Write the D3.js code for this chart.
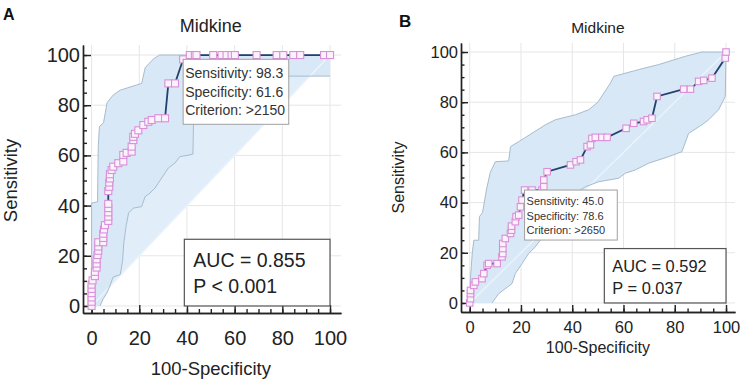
<!DOCTYPE html>
<html>
<head>
<meta charset="utf-8">
<script src="https://cdn.jsdelivr.net/npm/d3@7"></script>
<style>
  html, body { margin: 0; padding: 0; background: #fff; }
  svg { display: block; font-family: "Liberation Sans", Arial, sans-serif; }
</style>
</head>
<body>
<svg id="chart" width="744" height="384"></svg>
<script>
// ROC points as [100-Specificity, Sensitivity]
const rocA = [[0,0],[0,1.7],[0,3.4],[0,5.1],[0,6.8],[0,8.5],[0.4,10.2],[1.4,11.9],[1.4,13.6],[2.1,15.3],
  [2.1,16.9],[2.1,18.6],[2.5,20.3],[2.8,22],[2.8,23.7],[2.8,25.4],[4.9,25.4],[4.9,27.1],[4.9,28.8],[5.2,30.5],
  [5.6,32.2],[7,33.9],[7,35.6],[7,37.3],[7,39],[7,40.7],[7,45.8],[7.4,47.5],[7.4,49.2],[7.7,50.8],[7.7,52.5],
  [8.4,54.2],[9.1,55.5],[11.2,56.9],[13.3,57.6],[13.3,60.2],[14.7,61],[16.8,61.5],[16.8,63.5],[17.5,66.1],
  [17.5,67.4],[18.2,68.6],[19.6,70],[21.7,72.1],[23.8,73.4],[25.2,74.1],[28,74.8],[30.8,74.8],[32.2,88.7],
  [35,88.7],[38.4,98.3],[41.2,100],[43.3,100],[44,100],[51,100],[54.5,100],[56.6,100],[58.7,100],[60.1,100],
  [69.2,100],[77.6,100],[80.4,100],[84.6,100],[87.5,100],[97.5,100],[100,100]];
const upperA = [[0,0],[0,41],[2.5,41.5],[2.8,63.5],[3.3,71.5],[5,73],[6.5,81],[9,84],[12,86],[17,87.5],
  [21,88.7],[22.5,95],[26,98.5],[28.5,100],[100,100]];
const lowerA = [[3.5,0],[5,3],[6.3,5],[7.7,8],[9,11.5],[12,12.5],[13,18],[13.5,25],[14.5,32],[15.5,37],
  [17.5,39],[21,39.6],[22.4,43.5],[24.5,45],[26.6,47],[28,49],[30.8,53],[32.2,55],[35,57],[37,59.5],
  [40,60],[42.5,60.5],[42.8,75],[43.3,91.6],[100,91.6]];

const rocB = [[0,0],[0.3,1.7],[0.3,3.7],[0.3,5],[1.6,7],[2.2,8.4],[4.8,9.7],[5.5,11.7],[6.8,15],[7.4,15.7],
  [10.7,15.7],[12.6,18.4],[12.9,19.7],[12.9,21.7],[12.9,23.7],[13.9,25.7],[15.9,27.7],[16.3,29],[16.3,30.6],
  [17.8,32.4],[18.1,34.4],[19.1,35],[19.8,38.3],[20.4,41],[21.4,45],[24.3,45],[28.2,45],[28.9,46.3],[28.9,49],
  [30.2,52.3],[39.3,55],[41.5,56.3],[43.2,57],[45.8,62.3],[47.1,63],[47.7,65.6],[49,66],[51.6,66],[53.6,66],
  [61,69.6],[64,71.6],[67.8,72.3],[69.2,73],[71.1,73.6],[73.1,82.3],[83.5,85.2],[86.1,85.2],[89.3,88.3],
  [91.3,88.7],[94.5,89.6],[99.7,97.6],[100,100]];
const upperB = [[0,0],[0.3,10],[1,20],[1.6,25],[3.5,25],[3.8,34.4],[5,36],[6.5,45],[8,52],[10,56.3],
  [15.2,56.6],[15.9,62.3],[19.1,64.3],[24.3,67.6],[29.5,71],[33.4,73],[41.2,75],[46.4,77],[50,80],[54.9,87.6],
  [56.2,90.3],[65.9,93],[73.7,95],[84.1,98.3],[90.6,100],[100,100]];
const lowerB = [[8.7,0],[11.3,3.7],[16.5,7.7],[17.8,11.7],[20.4,15.7],[23,19.7],[25.6,22.4],[29.5,27.7],
  [32.8,33],[34.7,35.7],[38.6,41],[41.2,43.7],[45.1,46.3],[50.3,48.3],[58.1,49.7],[60.7,51.7],[64.6,53],
  [69.8,55.7],[77.6,58.3],[82.8,60.3],[85.4,67.6],[90.6,71],[93.2,73],[97.1,77],[99.7,82.3],[100,100]];

const majorTicks = [0, 20, 40, 60, 80, 100];
const minorTicks = d3.range(0, 101, 5);
const cutoffA = [38.4, 98.3];
const cutoffB = [21.4, 45];
const infoA = ["Sensitivity: 98.3", "Specificity: 61.6", "Criterion: >2150"];
const infoB = ["Sensitivity: 45.0", "Specificity: 78.6", "Criterion: >2650"];
const statsA = ["AUC = 0.855", "P < 0.001"];
const statsB = ["AUC = 0.592", "P = 0.037"];

const svg = d3.select("#chart");

function drawPanel(c) {
    const x = d3.scaleLinear().domain(c.xDom).range(c.xRange);
    const y = d3.scaleLinear().domain(c.yDom).range(c.yRange);
    const g = svg.append("g");
    const line = d3.line().x(d => x(d[0])).y(d => y(d[1]));

    // grid
    g.append("g").selectAll("line.v").data(majorTicks).enter().append("line")
        .attr("x1", d => x(d)).attr("x2", d => x(d))
        .attr("y1", y(c.yDom[0])).attr("y2", y(c.yDom[1]))
        .attr("stroke", "#e6e6e6").attr("stroke-width", 1);
    g.append("g").selectAll("line.h").data(majorTicks).enter().append("line")
        .attr("y1", d => y(d)).attr("y2", d => y(d))
        .attr("x1", x(c.xDom[0])).attr("x2", x(c.xDom[1]))
        .attr("stroke", "#e6e6e6").attr("stroke-width", 1);

    // confidence band
    g.append("path")
        .attr("d", line(c.upper.concat(c.lower.slice().reverse())) + "Z")
        .attr("fill", "#d9e8f6");

    // area between lower bound and the diagonal
    const clipId = "below-" + c.id;
    const last = c.lower[c.lower.length - 1];
    g.append("clipPath").attr("id", clipId).append("path")
        .attr("d", line(c.lower.concat([[last[0], 0]])) + "Z");
    g.append("path")
        .attr("d", line([[0, 0], [100, 100], [0, 100]]) + "Z")
        .attr("fill", "#e1edf9")
        .attr("clip-path", `url(#${clipId})`);

    g.append("path").attr("d", line([[0, 0], [100, 100]]))
        .attr("fill", "none").attr("stroke", "#ebf3fb").attr("stroke-width", 1.5);

    [c.upper, c.lower].forEach(s => {
        g.append("path").attr("d", line(s))
            .attr("fill", "none").attr("stroke", "#a6bccd").attr("stroke-width", 1);
    });

    // axes
    const styleAxis = sel => {
        sel.selectAll("path, line").attr("stroke", "#222").attr("stroke-width", 1.4);
        sel.selectAll("text").attr("fill", "#222").style("font-size", c.tickFont + "px");
    };
    g.append("g").attr("transform", `translate(0,${y(c.yDom[0])})`)
        .call(d3.axisBottom(x).tickValues(minorTicks).tickSizeInner(-c.minorLen).tickSizeOuter(0).tickFormat(""))
        .call(styleAxis);
    g.append("g").attr("transform", `translate(0,${y(c.yDom[0])})`)
        .call(d3.axisBottom(x).tickValues(majorTicks).tickSizeInner(-c.majorLen).tickSizeOuter(0).tickPadding(c.xPad))
        .call(styleAxis);
    g.append("g").attr("transform", `translate(${x(c.xDom[0])},0)`)
        .call(d3.axisLeft(y).tickValues(minorTicks).tickSizeInner(-c.minorLen).tickSizeOuter(0).tickFormat(""))
        .call(styleAxis);
    g.append("g").attr("transform", `translate(${x(c.xDom[0])},0)`)
        .call(d3.axisLeft(y).tickValues(majorTicks).tickSizeInner(-c.majorLen).tickSizeOuter(0).tickPadding(c.yPad))
        .call(styleAxis);

    // ROC curve
    g.append("path").attr("d", line(c.roc))
        .attr("fill", "none").attr("stroke", "#23426b").attr("stroke-width", 1.8);
    g.append("g").selectAll("rect").data(c.roc).enter().append("rect")
        .attr("x", d => x(d[0]) - c.mark / 2).attr("y", d => y(d[1]) - c.mark / 2)
        .attr("width", c.mark).attr("height", c.mark)
        .attr("fill", "#fbf2fb").attr("stroke", "#d98fd9").attr("stroke-width", 1.1);

    // criterion box
    const bx = x(c.cutoff[0]), by = y(c.cutoff[1]);
    g.append("rect").attr("x", bx).attr("y", by).attr("width", c.infoW).attr("height", c.infoH)
        .attr("fill", "#fff").attr("stroke", "#a0a0a0").attr("stroke-width", 1);
    g.append("g").selectAll("text").data(c.info).enter().append("text")
        .attr("x", bx + 2).attr("y", (d, i) => by + c.infoBase + i * c.infoStep)
        .attr("fill", "#333").style("font-size", c.infoFont + "px").text(d => d);

    // AUC box
    const ax1 = x(100), ay1 = y(0);
    g.append("rect").attr("x", ax1 - c.statW).attr("y", ay1 - c.statH)
        .attr("width", c.statW).attr("height", c.statH)
        .attr("fill", "#fff").attr("stroke", "#555").attr("stroke-width", 1.2);
    g.append("g").selectAll("text").data(c.stats).enter().append("text")
        .attr("x", ax1 - c.statW + c.statPadX).attr("y", (d, i) => ay1 - c.statH + c.statBase + i * c.statStep)
        .attr("fill", "#222").style("font-size", c.statFont + "px").text(d => d);

    // labels
    const midX = (x(0) + x(100)) / 2;
    g.append("text").attr("x", midX).attr("y", c.titleY).attr("text-anchor", "middle")
        .attr("fill", "#222").style("font-size", c.titleFont + "px").text("Midkine");
    g.append("text").attr("x", midX).attr("y", c.xLabelY).attr("text-anchor", "middle")
        .attr("fill", "#222").style("font-size", c.labelFont + "px").text("100-Specificity");
    g.append("text").attr("transform", `translate(${c.yLabelX},${(y(0) + y(100)) / 2}) rotate(-90)`)
        .attr("text-anchor", "middle")
        .attr("fill", "#222").style("font-size", c.labelFont + "px").text("Sensitivity");
    g.append("text").attr("x", c.letterX).attr("y", c.letterY)
        .attr("fill", "#111").style("font-size", c.letterFont + "px").style("font-weight", "bold").text(c.letter);
}

drawPanel({
    id: "a", letter: "A", letterX: 3, letterY: 20, letterFont: 16,
    xDom: [-3.6, 104.6], xRange: [83, 341], yDom: [-2.8, 104], yRange: [313, 45],
    roc: rocA, upper: upperA, lower: lowerA,
    cutoff: cutoffA, info: infoA, infoW: 105.6, infoH: 65, infoBase: 19, infoStep: 18.5, infoFont: 14,
    stats: statsA, statW: 145.7, statH: 66.7, statBase: 28, statStep: 26, statPadX: 9, statFont: 19.5,
    tickFont: 20, xPad: 17.5, yPad: 3, majorLen: 8, minorLen: 4, mark: 7,
    titleY: 31.5, titleFont: 18, xLabelY: 375, labelFont: 18.5, yLabelX: 17
});

drawPanel({
    id: "b", letter: "B", letterX: 399, letterY: 27, letterFont: 17,
    xDom: [-3.4, 103.5], xRange: [461, 735], yDom: [-3.6, 103.6], yRange: [312, 43],
    roc: rocB, upper: upperB, lower: lowerB,
    cutoff: cutoffB, info: infoB, infoW: 92.7, infoH: 50, infoBase: 15, infoStep: 14.5, infoFont: 11,
    stats: statsB, statW: 121.7, statH: 54.4, statBase: 23, statStep: 22, statPadX: 8, statFont: 16.4,
    tickFont: 16.5, xPad: 9, yPad: 3, majorLen: 7, minorLen: 3.5, mark: 6.5,
    titleY: 33, titleFont: 15.5, xLabelY: 353, labelFont: 16, yLabelX: 404
});
</script>
</body>
</html>
